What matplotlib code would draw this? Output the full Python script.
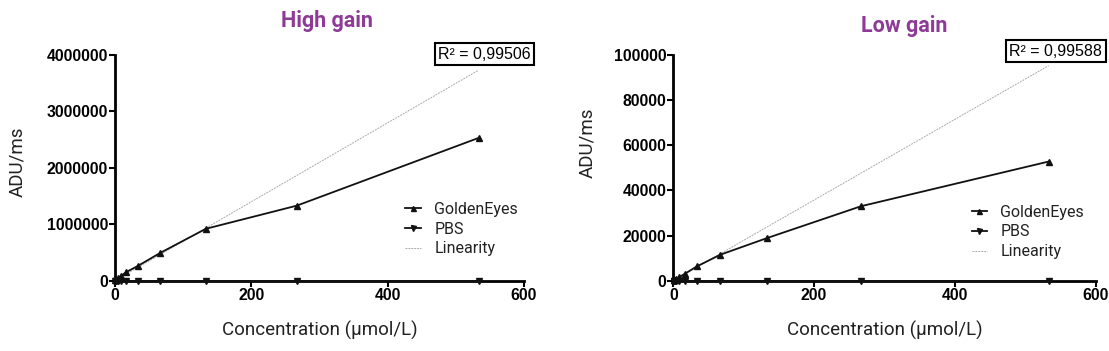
import matplotlib.pyplot as plt
import numpy as np

# Concentrations (µmol/L), two-fold dilution series
conc = [0.52, 1.04, 2.08, 4.17, 8.33, 16.7, 33.3, 66.7, 133.3, 266.7, 533.3]

# High gain signal (ADU/ms)
high_golden = [5000, 10000, 20000, 40000, 80000, 154000, 260000, 495000, 920000, 1330000, 2530000]
high_pbs = [0, 0, 0, 0, 0, 0, 0, 0, 0, 0, 0]
high_lin_x = [0, 533.3]
high_lin_y = [0, 3730000]

# Low gain signal (ADU/ms)
low_golden = [100, 200, 400, 800, 1600, 3100, 6300, 11500, 18900, 33000, 52800]
low_pbs = [0, 0, 0, 0, 0, 0, 0, 0, 0, 0, 0]
low_lin_x = [0, 533.3]
low_lin_y = [0, 95300]

panels = [
    ('High gain', high_golden, high_pbs, high_lin_x, high_lin_y, 4000000, 1000000, 'R² = 0,99506'),
    ('Low gain', low_golden, low_pbs, low_lin_x, low_lin_y, 100000, 20000, 'R² = 0,99588'),
]

# layout per panel (pixel / axes-fraction positions)
rects = [[0.1037, 0.2003, 0.3688, 0.643], [0.6071, 0.2003, 0.3809, 0.643]]
title_pos = [(327, 21.5), (904, 26)]
leg_anchor = [(0.675, 0.229), (0.672, 0.216)]
r2_anchor = [(1.017, 1.004), (1.015, 1.016)]
ylab_pos = [(26, 0.526), (596, 0.61)]

purple = '#8e3a96'
fig = plt.figure(figsize=(11.09, 3.51), dpi=100)
W, H = 1109, 351

for i, (title, golden, pbs, lx, ly, ymax, ystep, r2) in enumerate(panels):
    ax = fig.add_axes(rects[i])
    ax.plot(lx, ly, color='#aaaaaa', lw=0.7, ls=(0, (2, 1)), label='Linearity', zorder=2)
    ax.plot(conc, golden, color='#111111', lw=1.3, marker='^', ms=4.5, label='GoldenEyes',
            clip_on=False, zorder=3)
    ax.plot(conc, pbs, color='#111111', lw=1.3, marker='v', ms=4.5, label='PBS',
            clip_on=False, zorder=3)

    ax.set_xlim(0, 600)
    ax.set_ylim(0, ymax)
    ax.set_xticks([0, 200, 400, 600])
    ax.set_yticks(np.arange(0, ymax + 1, ystep))
    ax.ticklabel_format(axis='y', style='plain', useOffset=False)
    ax.spines['top'].set_visible(False)
    ax.spines['right'].set_visible(False)
    ax.spines['left'].set_linewidth(2)
    ax.spines['bottom'].set_linewidth(2)
    ax.tick_params(width=1.5, length=4, labelsize=11.3, pad=1)
    for lab in ax.get_xticklabels() + ax.get_yticklabels():
        lab.set_fontweight('bold')
        lab.set_family('Liberation Sans')

    tx, ty = title_pos[i]
    fig.text(tx / W, 1 - ty / H, title, color=purple, fontsize=15.5, fontweight='bold',
             family='Roboto', ha='center', va='center')
    ax.set_xlabel('Concentration (µmol/L)', fontsize=13.5, labelpad=13, color='#222222',
                  family='Roboto')
    ax.set_ylabel('ADU/ms', fontsize=13.5, color='#222222', family='Roboto')
    ax.yaxis.set_label_coords(ylab_pos[i][0] / W, 0, transform=fig.transFigure)
    ax.yaxis.label.set_y(0.2003 + 0.643 * ylab_pos[i][1])

    handles, labels = ax.get_legend_handles_labels()
    order = [1, 2, 0]
    ax.legend([handles[k] for k in order], [labels[k] for k in order],
              loc='center left', bbox_to_anchor=leg_anchor[i], frameon=False,
              prop={'family': 'Roboto', 'size': 11.5}, handlelength=1.0,
              handletextpad=0.8, labelspacing=0.3, markerscale=0.8, labelcolor='#222222')

    ax.text(r2_anchor[i][0], r2_anchor[i][1], r2, transform=ax.transAxes, ha='right',
            va='center', fontsize=11.5, family='Liberation Sans',
            bbox=dict(boxstyle='square,pad=0.22', fc='white', ec='black', lw=1.5))

fig.savefig('out.png', dpi=100)
